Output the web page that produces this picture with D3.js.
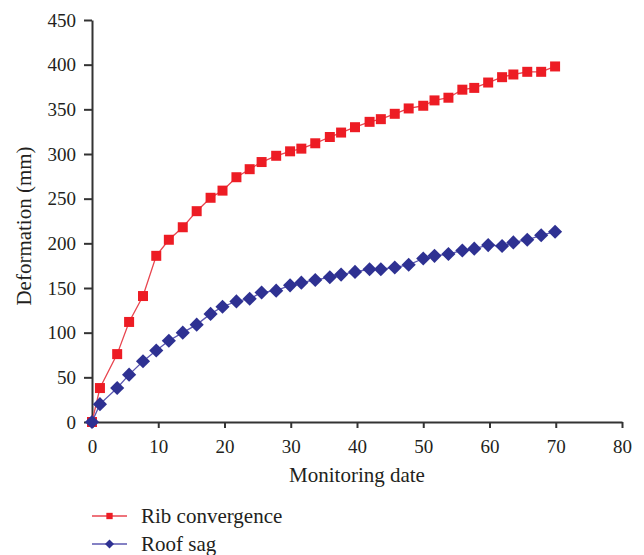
<!DOCTYPE html>
<html>
<head>
<meta charset="utf-8">
<script src="https://cdn.jsdelivr.net/npm/d3@7"></script>
<style>
  body { margin: 0; background: #fff; }
  svg text { font-family: "Liberation Serif", "DejaVu Serif", serif; fill: #231f20; }
</style>
</head>
<body>
<svg id="chart" width="644" height="555"></svg>
<script>
// monitoring days (x) and deformation values (mm)
var ribDays = [0, 1.2, 3.8, 5.6, 7.7, 9.7, 11.6, 13.7, 15.8, 17.9, 19.7, 21.8, 23.8, 25.6, 27.8, 29.9,
  31.6, 33.7, 35.9, 37.6, 39.7, 41.9, 43.6, 45.7, 47.8, 50, 51.7, 53.8, 55.9, 57.7, 59.8, 61.9, 63.6, 65.7, 67.8, 69.9];
var ribConvergence = [0, 38, 76, 112, 141, 186, 204, 218, 236, 251, 259, 274, 283, 291, 298, 303,
  306, 312, 319, 324, 330, 336, 339, 345, 351, 354, 360, 363, 372, 374, 380, 386, 389, 392, 392, 398];
var sagDays = ribDays;
var roofSag = [0, 20, 38, 53, 68, 80, 91, 100, 109, 121, 129, 135, 138, 145, 147, 153,
  156, 159, 162, 165, 168, 171, 171, 173, 176, 183, 186, 188, 192, 194, 198, 197, 201, 204, 209, 213];
var xTicks = [0, 10, 20, 30, 40, 50, 60, 70, 80];
var yTicks = [0, 50, 100, 150, 200, 250, 300, 350, 400, 450];

var svg = d3.select('#chart');
var x = d3.scaleLinear().domain([0, 80]).range([92, 622]);
var y = d3.scaleLinear().domain([0, 450]).range([422, 20]);

var xAxis = svg.append('g').attr('transform', 'translate(0,422)')
	.call(d3.axisBottom(x).tickValues(xTicks).tickSize(6).tickSizeOuter(0).tickPadding(12));
var yAxis = svg.append('g').attr('transform', 'translate(92,0)')
	.call(d3.axisLeft(y).tickValues(yTicks).tickSize(8).tickSizeOuter(0).tickPadding(8));

[xAxis, yAxis].forEach(function(g) {
	g.select('.domain').attr('stroke', '#333').attr('stroke-width', 2);
	g.selectAll('.tick line').attr('stroke', '#333').attr('stroke-width', 2);
	g.selectAll('.tick text').attr('font-size', 19).attr('font-family', null).attr('fill', '#231f20');
});

svg.append('text').attr('x', 357).attr('y', 482).attr('text-anchor', 'middle')
	.attr('font-size', 21).text('Monitoring date');
svg.append('text').attr('transform', 'translate(31,226) rotate(-90)').attr('text-anchor', 'middle')
	.attr('font-size', 21).text('Deformation (mm)');

var series = [
	{ name: 'Rib convergence', days: ribDays, vals: ribConvergence, line: '#e8454f', fill: '#ed1c24', shape: d3.symbolSquare, size: 100, rot: 0 },
	{ name: 'Roof sag', days: sagDays, vals: roofSag, line: '#5b57b0', fill: '#2e3192', shape: d3.symbolSquare, size: 100, rot: 45 }
];

series.forEach(function(s) {
	var pts = s.days.map(function(d, i) { return [d, s.vals[i]]; });
	svg.append('path').datum(pts)
		.attr('fill', 'none').attr('stroke', s.line).attr('stroke-width', 1.3)
		.attr('d', d3.line().x(function(d) { return x(d[0]); }).y(function(d) { return y(d[1]); }));
	svg.append('g').selectAll('path').data(pts).join('path')
		.attr('d', d3.symbol().type(s.shape).size(s.size))
		.attr('transform', function(d) { return 'translate(' + x(d[0]) + ',' + y(d[1]) + ') rotate(' + s.rot + ')'; })
		.attr('fill', s.fill);
});

// legend
var legend = svg.append('g');
series.forEach(function(s, i) {
	var ly = 516 + i * 28;
	legend.append('line').attr('x1', 92).attr('x2', 127).attr('y1', ly).attr('y2', ly)
		.attr('stroke', s.line).attr('stroke-width', 1.3);
	legend.append('path').attr('d', d3.symbol().type(s.shape).size(40)())
		.attr('transform', 'translate(109.5,' + ly + ') rotate(' + s.rot + ')').attr('fill', s.fill);
	legend.append('text').attr('x', 141).attr('y', ly + 7).attr('font-size', 21).text(s.name);
});
</script>
</body>
</html>
